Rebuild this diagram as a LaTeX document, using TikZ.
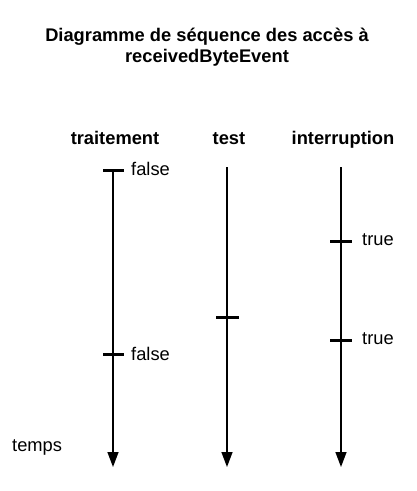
\documentclass[tikz,border=0pt]{standalone}
\usepackage{fontspec}
\setmainfont{Liberation Sans}
\usetikzlibrary{arrows.meta}
\tikzset{
  lbl/.style={font=\fontsize{18.3}{21}\selectfont, inner sep=0pt},
  hdr/.style={font=\fontsize{18.3}{21}\selectfont\bfseries, inner sep=0pt, anchor=base},
  life/.style={line width=1.4pt, -{Triangle[width=11pt,length=15pt]}},
  tick/.style={line width=3pt},
}
\begin{document}
\begin{tikzpicture}[x=1pt,y=-1pt]
\useasboundingbox (0,0) rectangle (416,491);
\node[hdr] (title1) at (207,41) {Diagramme de séquence des accès à};
\node[hdr] (title2) at (207,62) {receivedByteEvent};
\node[hdr] (h1) at (115,144) {traitement};
\node[hdr] (h2) at (229,144) {test};
\node[hdr] (h3) at (343,144) {interruption};
\coordinate (t1) at (113,170); \coordinate (b1) at (113,467);
\coordinate (t2) at (227,167); \coordinate (b2) at (227,467);
\coordinate (t3) at (341,167); \coordinate (b3) at (341,467);
\draw[life] (t1) -- (b1);
\draw[life] (t2) -- (b2);
\draw[life] (t3) -- (b3);
% ticks
\coordinate (k1a) at (103,170); \coordinate (k1b) at (124,170);
\coordinate (k2a) at (103,354); \coordinate (k2b) at (124,354);
\coordinate (k3a) at (216,317); \coordinate (k3b) at (239,317);
\coordinate (k4a) at (330,241); \coordinate (k4b) at (352,241);
\coordinate (k5a) at (330,340); \coordinate (k5b) at (352,340);
\draw[tick] (k1a) -- (k1b);
\draw[tick] (k2a) -- (k2b);
\draw[tick] (k3a) -- (k3b);
\draw[tick] (k4a) -- (k4b);
\draw[tick] (k5a) -- (k5b);
\node[lbl, anchor=west] (f1) at (131,169) {false};
\node[lbl, anchor=west] (f2) at (131,354) {false};
\node[lbl, anchor=west] (v1) at (362,240) {true};
\node[lbl, anchor=west] (v2) at (362,339) {true};
\node[lbl, anchor=west] (temps) at (12,447) {temps};
\end{tikzpicture}
\end{document}
